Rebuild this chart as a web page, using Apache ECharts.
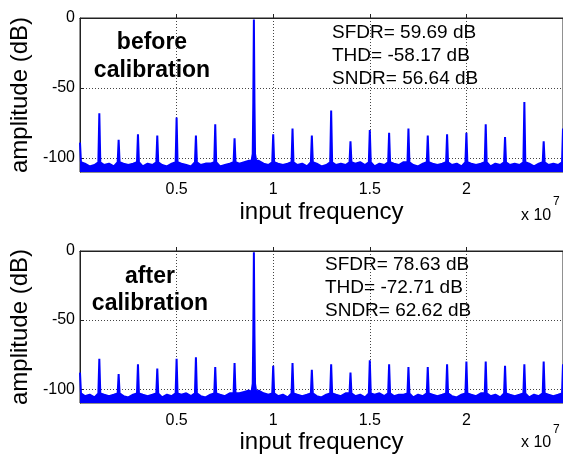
<!DOCTYPE html>
<html>
<head>
<meta charset="utf-8">
<script src="https://cdn.jsdelivr.net/npm/echarts@6/dist/echarts.min.js"></script>
<style>
  html, body { margin: 0; padding: 0; background: #fff; }
  #chart { width: 563px; height: 456px; }
</style>
</head>
<body>
<div id="chart"></div>
<script>
// frequency in units of 1e7 Hz, amplitude in dB
const xTicks = [0.5, 1, 1.5, 2]
const yTicks = [-100, -50, 0]

const spurFreq = [0, 0.1, 0.2, 0.3, 0.4, 0.5, 0.6, 0.7, 0.8, 0.9, 1.0, 1.1, 1.2,
  1.3, 1.4, 1.5, 1.6, 1.7, 1.8, 1.9, 2.0, 2.1, 2.2, 2.3, 2.4, 2.5]
const spursBefore = [-89, -68, -87, -83, -84, -71, -84, -76, -86, -1, -83, -79, -84,
  -66, -88, -80, -82, -79, -84, -83, -82, -76, -85, -60, -88, -79]
const spursAfter = [-88, -78, -89, -82, -85, -78, -77, -84, -81, -1, -83, -81, -86,
  -82, -88, -79, -82, -84, -84, -82, -80, -80, -83, -82, -80, -82]
const spurBase = -103

const fundamentalFreq = 0.9
const skirtOffset = [-0.012, -0.006, -0.003, 0.003, 0.006, 0.012]
const skirtBefore = [-102, -97, -60, -60, -97, -102]
const skirtAfter = [-102, -96, -60, -60, -96, -102]

// noise floor, three samples between neighbouring spurs
const noiseBefore = [
  -104, -106, -105, -105, -104, -106, -104, -105, -104, -106, -104, -105,
  -105, -106, -104, -104, -105, -106, -105, -104, -104, -106, -105, -104,
  -104, -103, -102, -102, -104, -105, -104, -105, -104, -105, -104, -106,
  -104, -106, -105, -105, -104, -105, -104, -103, -105, -106, -104, -105,
  -104, -105, -103, -105, -106, -104, -104, -105, -104, -105, -104, -106,
  -104, -105, -104, -106, -104, -105, -105, -104, -105, -104, -106, -104,
  -105, -104, -105
]
const noiseAfter = [
  -105, -104, -106, -104, -105, -104, -105, -106, -104, -104, -105, -104,
  -106, -104, -105, -104, -103, -105, -105, -106, -104, -104, -105, -103,
  -103, -102, -101, -101, -103, -104, -105, -104, -106, -104, -105, -104,
  -105, -106, -104, -104, -105, -103, -105, -104, -106, -104, -103, -105,
  -105, -104, -104, -106, -104, -105, -104, -105, -104, -105, -106, -104,
  -104, -105, -103, -105, -104, -106, -104, -105, -104, -106, -104, -105,
  -104, -105, -104
]

const labelsBefore = ['before', 'calibration']
const labelsAfter = ['after', 'calibration']
const statsBefore = ['SFDR= 59.69 dB', 'THD= -58.17 dB', 'SNDR= 56.64 dB']
const statsAfter = ['SFDR= 78.63 dB', 'THD= -72.71 dB', 'SNDR= 62.62 dB']

const noiseSteps = [0.025, 0.05, 0.075]
const spurHalfWidth = 0.005

function buildSpectrum(spurs, noise, skirt) {
  const pts = []
  spurFreq.forEach((f, i) => {
    if (f === fundamentalFreq) {
      skirtOffset.slice(0, 3).forEach((d, j) => pts.push([f + d, skirt[j]]))
      pts.push([f, spurs[i]])
      skirtOffset.slice(3).forEach((d, j) => pts.push([f + d, skirt[j + 3]]))
    } else {
      if (i > 0) pts.push([f - spurHalfWidth, spurBase])
      pts.push([f, spurs[i]])
      if (i < spurFreq.length - 1) pts.push([f + spurHalfWidth, spurBase])
    }
    if (i < spurFreq.length - 1) {
      noiseSteps.forEach((s, j) => pts.push([f + s, noise[i * 3 + j]]))
    }
  })
  return pts
}

const font = "'Liberation Sans', Arial, sans-serif"
const grids = [
  { left: 80, top: 18, width: 483, height: 154 },
  { left: 80, top: 251, width: 483, height: 152 },
]

function xAxis(gridIndex, nameGap) {
  return {
    type: 'value',
    gridIndex,
    min: 0,
    max: 2.5,
    z: 3,
    name: 'input frequency',
    nameLocation: 'middle',
    nameGap,
    nameTextStyle: { fontFamily: font, fontSize: 24, color: '#000' },
    axisLine: { show: true, lineStyle: { color: '#222', width: 1 } },
    axisTick: { show: true, inside: true, length: 4, customValues: xTicks, lineStyle: { color: '#222' } },
    axisLabel: {
      customValues: xTicks,
      margin: 10,
      fontFamily: font,
      fontSize: 16,
      color: '#000',
      formatter: (v) => String(v),
    },
    splitLine: { show: true, lineStyle: { color: '#444', type: [1, 2], width: 1 } },
  }
}

function yAxis(gridIndex) {
  return {
    type: 'value',
    gridIndex,
    min: -110,
    max: 0,
    name: 'amplitude (dB)',
    nameLocation: 'middle',
    nameGap: 46,
    nameTextStyle: { fontFamily: font, fontSize: 24, color: '#000' },
    axisLine: { show: true, lineStyle: { color: '#222', width: 1 } },
    axisTick: { show: true, inside: true, length: 4, customValues: yTicks, lineStyle: { color: '#222' } },
    axisLabel: {
      customValues: yTicks,
      margin: 5,
      fontFamily: font,
      fontSize: 16,
      color: '#000',
    },
    splitLine: { show: true, lineStyle: { color: '#444', type: [1, 2], width: 1 } },
  }
}

function spectrumSeries(idx, spurs, noise, skirt) {
  return {
    type: 'line',
    xAxisIndex: idx,
    yAxisIndex: idx,
    symbol: 'none',
    animation: false,
    lineStyle: { color: '#0000ff', width: 2 },
    areaStyle: { color: '#0000ff', opacity: 1, origin: 'start' },
    data: buildSpectrum(spurs, noise, skirt),
  }
}

function textBlock(lines, x, y, opts) {
  return {
    type: 'text',
    z: 10,
    style: Object.assign({
      x,
      y,
      text: lines.join('\n'),
      fill: '#000',
      fontFamily: font,
    }, opts),
  }
}

const chart = echarts.init(document.getElementById('chart'), null, { renderer: 'canvas' })

chart.setOption({
  animation: false,
  backgroundColor: '#fff',
  grid: grids.map((g) => Object.assign({ show: true, borderColor: '#222', borderWidth: 1, backgroundColor: '#fff' }, g)),
  xAxis: [xAxis(0, 28), xAxis(1, 22)],
  yAxis: [yAxis(0), yAxis(1)],
  series: [
    spectrumSeries(0, spursBefore, noiseBefore, skirtBefore),
    spectrumSeries(1, spursAfter, noiseAfter, skirtAfter),
  ],
  graphic: [
    textBlock(labelsBefore, 152, 57, { fontSize: 23, fontWeight: 'bold', lineHeight: 28, align: 'center', verticalAlign: 'middle' }),
    textBlock(labelsAfter, 150, 290, { fontSize: 23, fontWeight: 'bold', lineHeight: 27, align: 'center', verticalAlign: 'middle' }),
    textBlock(statsBefore, 332, 21, { fontSize: 19, lineHeight: 23, align: 'left', verticalAlign: 'top' }),
    textBlock(statsAfter, 325, 253, { fontSize: 19, lineHeight: 23, align: 'left', verticalAlign: 'top' }),
    textBlock(['x 10'], 521, 208, { fontSize: 16, align: 'left', verticalAlign: 'top' }),
    textBlock(['7'], 553, 196, { fontSize: 12, align: 'left', verticalAlign: 'top' }),
    textBlock(['x 10'], 521, 435, { fontSize: 16, align: 'left', verticalAlign: 'top' }),
    textBlock(['7'], 553, 424, { fontSize: 12, align: 'left', verticalAlign: 'top' }),
  ],
})
</script>
</body>
</html>
